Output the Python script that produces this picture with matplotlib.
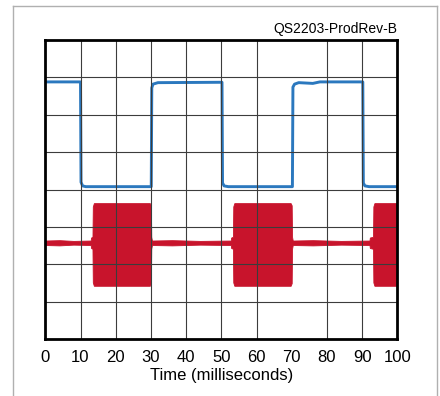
import matplotlib
matplotlib.use("Agg")
import matplotlib.pyplot as plt
from matplotlib.lines import Line2D

plt.rcParams['font.family'] = ['Liberation Sans', 'DejaVu Sans']

# Control signal (blue), in grid divisions
blue_t = [0, 10.0, 10.15, 10.6, 11.5, 30.1, 30.25, 30.6, 32.0,
          50.2, 50.35, 50.8, 52.0, 70.2, 70.35, 70.8, 72.0, 76.0, 78.0,
          90.2, 90.35, 90.8, 92.0, 100]
blue_v = [6.88, 6.88, 4.20, 4.10, 4.08, 4.08, 6.72, 6.82, 6.86,
          6.87, 4.18, 4.10, 4.08, 4.08, 6.74, 6.82, 6.86, 6.84, 6.88,
          6.88, 4.18, 4.10, 4.08, 4.08]

# Drive current (red) envelope, in grid divisions
red_t = [0, 4, 8, 12.9, 13.0, 13.4, 13.5, 13.8, 29.7, 30.0, 30.1, 30.3,
         36, 44, 52.7, 52.8, 53.3, 53.4, 53.7, 69.7, 70.0, 70.1, 70.3,
         76, 84, 92.1, 92.2, 93.1, 93.2, 93.5, 100]
red_hi = [2.64, 2.65, 2.63, 2.64, 2.72, 2.74, 3.55, 3.64, 3.64, 3.58, 2.74, 2.64,
          2.65, 2.63, 2.64, 2.72, 2.74, 3.55, 3.64, 3.64, 3.58, 2.74, 2.64,
          2.65, 2.63, 2.64, 2.72, 2.74, 3.55, 3.64, 3.64]
red_lo = [2.52, 2.51, 2.53, 2.52, 2.44, 2.42, 1.52, 1.43, 1.43, 1.50, 2.42, 2.52,
          2.51, 2.53, 2.52, 2.44, 2.42, 1.52, 1.43, 1.43, 1.50, 2.42, 2.52,
          2.51, 2.53, 2.52, 2.44, 2.42, 1.52, 1.43, 1.43]

x_ticks = [0, 10, 20, 30, 40, 50, 60, 70, 80, 90, 100]
x_grid = [10, 20, 30, 40, 50, 60, 80, 90]
y_grid = [1, 2, 3, 4, 5, 6, 7]

fig = plt.figure(figsize=(4.4, 3.96), dpi=100)
ax = fig.add_axes([45.3 / 440, 1 - 339.3 / 396, (397.3 - 45.3) / 440, (339.3 - 40) / 396])
ax.set_xlim(0, 100)
ax.set_ylim(0, 8)

ax.fill_between(red_t, red_lo, red_hi, color='#c8142c', lw=0.6,
                edgecolor='#c8142c', zorder=2)
ax.plot(blue_t, blue_v, color='#2b78be', lw=2.1, solid_joinstyle='round', zorder=3)

# Screen graticule, drawn over the traces
for gx in x_grid:
    ax.axvline(gx, color='#3c3c3c', lw=0.8, zorder=4)
for gy in y_grid:
    ax.axhline(gy, color='#3c3c3c', lw=0.8, zorder=4)

ax.set_xticks(x_ticks)
ax.set_xticklabels([str(v) for v in x_ticks], fontsize=12)
ax.set_yticks([])
ax.tick_params(axis='x', length=0, pad=8)
ax.set_xlabel('Time (milliseconds)', fontsize=12, labelpad=2)
for sp in ax.spines.values():
    sp.set_linewidth(2.0)
    sp.set_color('black')
    sp.set_zorder(5)

ax.text(1.0, 1.0 + 3.5 / 299.3, 'QS2203-ProdRev-B', transform=ax.transAxes,
        ha='right', va='bottom', fontsize=10)

# Light outer panel border
bc = '#b0b0b0'
fx = lambda p: p / 440
fy = lambda p: 1 - p / 396
fig.add_artist(Line2D([fx(13), fx(13)], [fy(396), fy(6)], color=bc, lw=1.0))
fig.add_artist(Line2D([fx(13), fx(436.5)], [fy(6), fy(6)], color=bc, lw=1.0))
fig.add_artist(Line2D([fx(436.5), fx(436.5)], [fy(6), fy(396)], color=bc, lw=1.0))

fig.savefig('out.png', dpi=100)
